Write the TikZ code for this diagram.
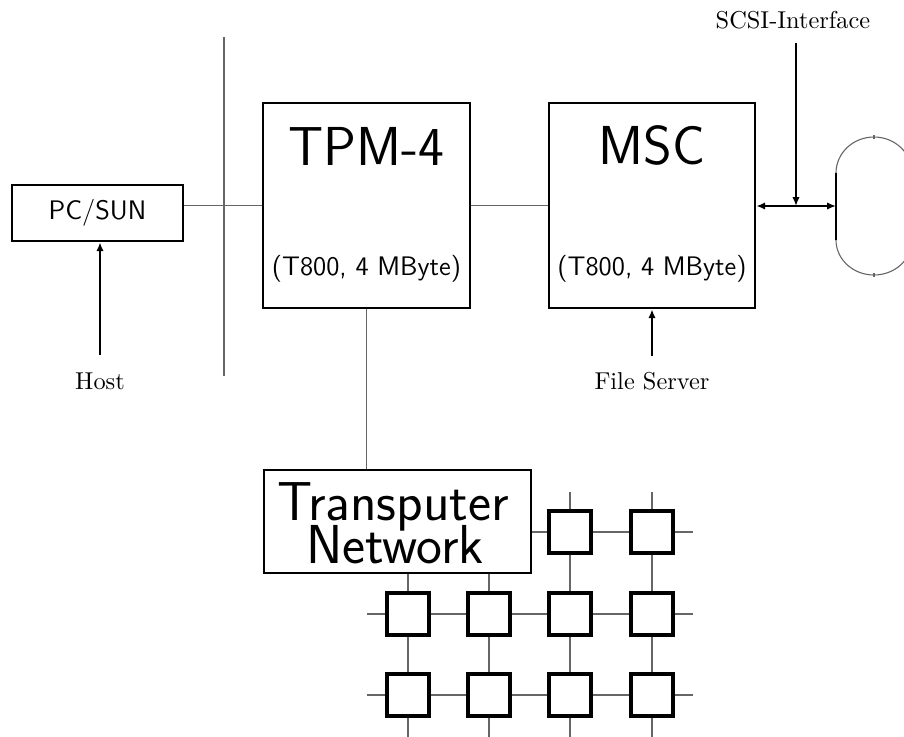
\documentclass[tikz,border=0pt]{standalone}
\usetikzlibrary{arrows.meta}
\newcommand{\PX}{0.41pt}
\begin{document}
\begin{tikzpicture}[x=0.41pt,y=-0.41pt,
  boxed/.style={draw, line width=1.1pt, inner sep=0pt, fill=white},
  sq/.style={boxed, line width=1.3pt, minimum width={42*\PX}, minimum height={42*\PX}},
  thinline/.style={draw=black!60, line width=0.45pt},
  arr/.style={line width=1.2pt, -{Latex[length=3.6pt,width=3pt]}},
  darr/.style={line width=1.2pt, {Latex[length=3.6pt,width=3pt]}-{Latex[length=3.6pt,width=3pt]}},
  big/.style={font=\sffamily\fontsize{22.5}{22.5}\selectfont, inner sep=0pt},
  sub/.style={font=\sffamily\fontsize{11}{13}\selectfont, inner sep=0pt},
  lbl/.style={font=\normalsize, inner sep=0pt}]
\useasboundingbox (0,0) rectangle (904,736);
\clip (0,0) rectangle (904,736);

% boxes
\node[boxed, minimum width={171*\PX}, minimum height={56*\PX}, font=\sffamily\fontsize{11}{13}\selectfont] (pc) at (97.5,213) {PC/SUN};
\node[boxed, minimum width={207*\PX}, minimum height={205*\PX}] (tpm) at (366.5,205.5) {};
\node[boxed, minimum width={206*\PX}, minimum height={205*\PX}] (msc) at (652,205.5) {};
\node[big, anchor=base] (tpmt) at (366.5,165) {TPM-4};
\node[sub, anchor=base] (tpms) at (366.5,275) {(T800, 4 MByte)};
\node[big, anchor=base] (msct) at (652,164) {MSC};
\node[sub, anchor=base] (mscs) at (652,275) {(T800, 4 MByte)};

% left bus
\coordinate (busT) at (224,37);
\coordinate (busB) at (224,376);
\draw[thinline] (busT) -- (busB);
\draw[thinline] (pc.east |- tpm.west) -- (tpm.west);
\draw[thinline] (tpm.east) -- (msc.west);

% host
\node[lbl] (host) at (100,381) {Host};
\coordinate (hostS) at (100,355);
\draw[arr] (hostS) -- (pc.south -| hostS);

% file server
\node[lbl] (fs) at (652,381) {File Server};
\coordinate (fsS) at (652,356);
\draw[arr] (fsS) -- (msc.south);

% SCSI
\node[lbl] (scsi) at (793,20) {SCSI-Interface};
\coordinate (scsiT) at (796,43);
\coordinate (scsiB) at (796,206);
\coordinate (diskL) at (836,206);
\draw[arr] (scsiT) -- (scsiB);
\draw[darr] (msc.east |- diskL) -- (diskL);

% disk
\coordinate (dT) at (836,173);
\coordinate (dB) at (836,240);
\draw[line width=1.2pt] (dT) -- (dB);
\draw[thinline] (dT) arc[start angle=180, end angle=0, x radius=38, y radius=-36];
\draw[thinline] (dB) arc[start angle=180, end angle=360, x radius=38, y radius=-35];
\draw[thinline] (874,135) -- (874,139);
\draw[thinline] (874,273) -- (874,277);

% transputer network
\node[boxed, minimum width={267*\PX}, minimum height={103*\PX}] (tn) at (397.5,521.5) {};
\node[big, anchor=base] (tn1) at (393,520) {Transputer};
\node[big, anchor=base] (tn2) at (395,563) {Network};
\draw[thinline] (tpm.south) -- (tpm.south |- tn.north);

% grid squares
\foreach \c/\x in {2/570,3/652} \node[sq] (s0\c) at (\x,532) {};
\foreach \c/\x in {0/408,1/489,2/570,3/652} {
  \node[sq] (s1\c) at (\x,614) {};
  \node[sq] (s2\c) at (\x,695) {};
}
\coordinate (h0R) at (693,532);
\coordinate (h1L) at (367,614);
\coordinate (h1R) at (693,614);
\coordinate (h2L) at (367,695);
\coordinate (h2R) at (693,695);
\coordinate (v2T) at (570,492);
\coordinate (v3T) at (652,492);
\foreach \c/\x in {0/408,1/489,2/570,3/652} \coordinate (v\c B) at (\x,740);

\draw[thinline] (tn.east |- s02) -- (s02) -- (s03) -- (h0R);
\draw[thinline] (h1L) -- (s10) -- (s11) -- (s12) -- (s13) -- (h1R);
\draw[thinline] (h2L) -- (s20) -- (s21) -- (s22) -- (s23) -- (h2R);
\draw[thinline] (tn.south -| s10) -- (s10) -- (s20) -- (v0B);
\draw[thinline] (tn.south -| s11) -- (s11) -- (s21) -- (v1B);
\draw[thinline] (v2T) -- (s02) -- (s12) -- (s22) -- (v2B);
\draw[thinline] (v3T) -- (s03) -- (s13) -- (s23) -- (v3B);
\end{tikzpicture}
\end{document}
